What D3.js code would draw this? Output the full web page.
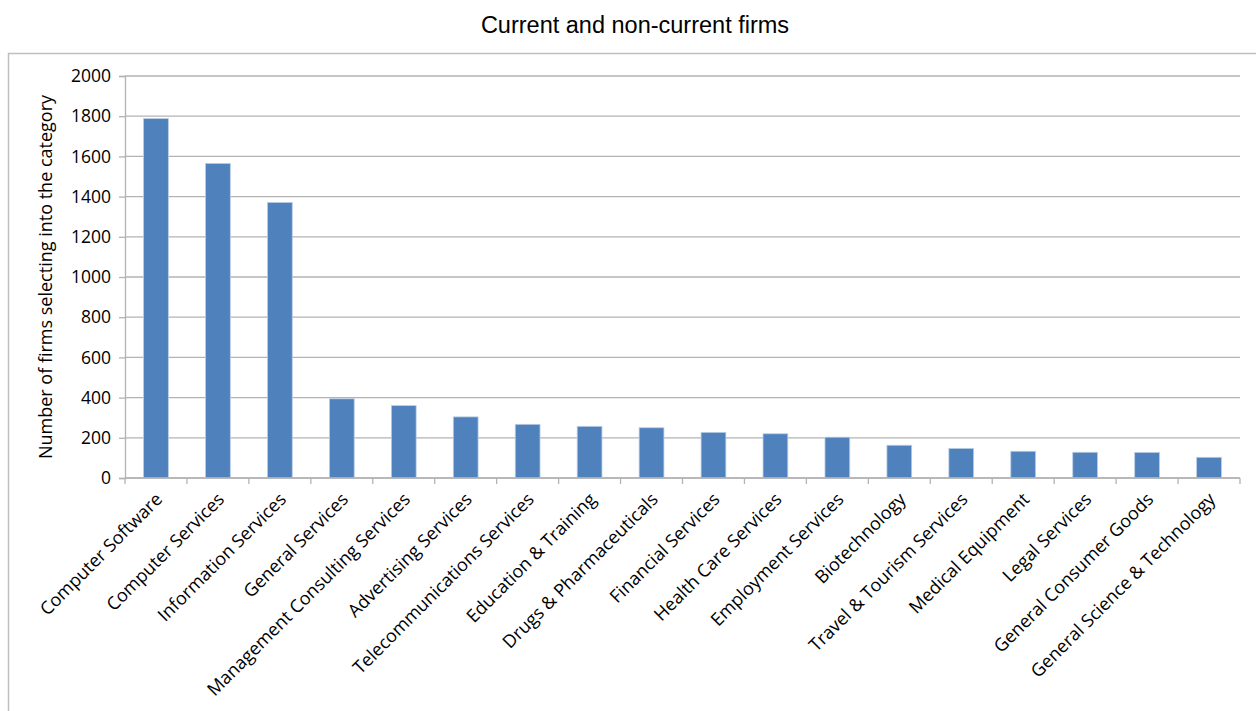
<!DOCTYPE html>
<html>
<head>
<meta charset="utf-8">
<script src="https://cdn.jsdelivr.net/npm/d3@7"></script>
<style>
  body { margin: 0; background: #fff; }
  .tick text { font-family: "Open Sans", sans-serif; fill: #000; }
</style>
</head>
<body>
<div id="chart"></div>
<script>
// Categories and counts
var categories = [
  "Computer Software", "Computer Services", "Information Services",
  "General Services", "Management Consulting Services", "Advertising Services",
  "Telecommunications Services", "Education & Training", "Drugs & Pharmaceuticals",
  "Financial Services", "Health Care Services", "Employment Services",
  "Biotechnology", "Travel & Tourism Services", "Medical Equipment",
  "Legal Services", "General Consumer Goods", "General Science & Technology"
];
var counts = [1788, 1565, 1371, 394, 360, 304, 267, 257, 250, 227, 220, 203, 163, 147, 133, 128, 127, 103];
var yTicks = [0, 200, 400, 600, 800, 1000, 1200, 1400, 1600, 1800, 2000];

var W = 1256, H = 711;
var margin = {top: 76, right: 16, bottom: 233, left: 125},
    width = W - margin.left - margin.right,
    height = H - margin.top - margin.bottom;

var svg = d3.select("#chart").append("svg")
    .attr("width", W)
    .attr("height", H);

// outer chart frame
svg.append("rect")
    .attr("x", 8.5).attr("y", 53.5)
    .attr("width", W + 10).attr("height", H)
    .attr("fill", "none")
    .attr("stroke", "#bfbfbf")
    .attr("stroke-width", 1.5);

svg.append("text")
    .attr("x", 635).attr("y", 33)
    .attr("text-anchor", "middle")
    .style("font-family", "'Liberation Sans', Arial, sans-serif")
    .style("font-size", "23.5px")
    .text("Current and non-current firms");

var g = svg.append("g")
    .attr("transform", "translate(" + margin.left + "," + margin.top + ")");

var x = d3.scaleBand().domain(categories).range([0, width]).paddingInner(0.6).paddingOuter(0.3);
var xEdge = d3.scaleLinear().domain([0, categories.length]).range([0, width]);
var y = d3.scaleLinear().domain([0, 2000]).range([height, 0]);

// gridlines
g.selectAll(".grid").data(yTicks).enter().append("line")
    .attr("class", "grid")
    .attr("x1", 0).attr("x2", width)
    .attr("y1", function(d) { return y(d); })
    .attr("y2", function(d) { return y(d); })
    .attr("stroke", "#b3b3b3")
    .attr("stroke-width", 1.3);

// bars
g.selectAll(".bar").data(counts).enter().append("rect")
    .attr("class", "bar")
    .attr("x", function(d, i) { return x(categories[i]); })
    .attr("width", x.bandwidth())
    .attr("y", function(d) { return y(d); })
    .attr("height", function(d) { return height - y(d); })
    .attr("fill", "#4f81bd")
    .attr("stroke", "#b9cde5")
    .attr("stroke-width", 0.8);

// y axis
var yAxis = d3.axisLeft(y).tickValues(yTicks).tickFormat(d3.format("d")).tickSize(6).tickPadding(8);
var ya = g.append("g").call(yAxis);
ya.selectAll("text").style("font-size", "17.5px");
ya.select(".domain").attr("stroke", "#b3b3b3").attr("stroke-width", 1.3);
ya.selectAll(".tick line").attr("stroke", "#b3b3b3").attr("stroke-width", 1.3);

// x axis: baseline plus category boundary ticks
g.append("line")
    .attr("x1", 0).attr("x2", width)
    .attr("y1", height).attr("y2", height)
    .attr("stroke", "#b3b3b3").attr("stroke-width", 1.3);
g.selectAll(".xtick").data(d3.range(categories.length + 1)).enter().append("line")
    .attr("x1", function(d) { return xEdge(d); })
    .attr("x2", function(d) { return xEdge(d); })
    .attr("y1", height).attr("y2", height + 6)
    .attr("stroke", "#b3b3b3").attr("stroke-width", 1.3);

g.selectAll(".xlabel").data(categories).enter().append("text")
    .attr("class", "xlabel")
    .attr("transform", function(d) {
        return "translate(" + (x(d) + x.bandwidth() / 2 + 3) + "," + (height + 18) + ") rotate(-45)";
    })
    .attr("text-anchor", "end")
    .attr("dy", "0.35em")
    .style("font-family", "'Open Sans', sans-serif")
    .style("font-size", "18px")
    .text(function(d) { return d; });

// y axis title
svg.append("text")
    .attr("transform", "translate(52," + (margin.top + height / 2) + ") rotate(-90)")
    .attr("text-anchor", "middle")
    .style("font-family", "'Open Sans', sans-serif")
    .style("font-size", "18px")
    .text("Number of firms selecting into the category");
</script>
</body>
</html>
